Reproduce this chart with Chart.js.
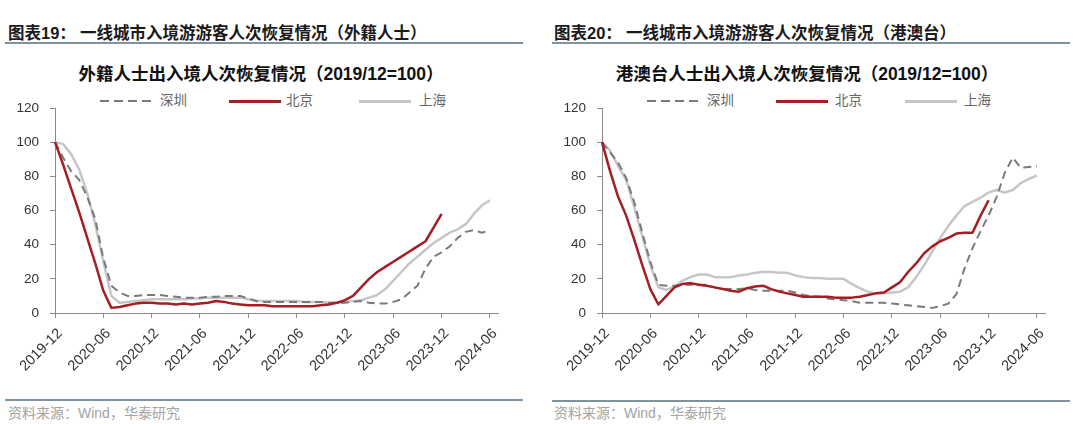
<!DOCTYPE html>
<html><head><meta charset="utf-8">
<script src="https://cdn.jsdelivr.net/npm/chart.js@4.4.1/dist/chart.umd.min.js"></script>
<style>
html,body{margin:0;padding:0;background:#fff;}
body{width:1080px;height:424px;position:relative;overflow:hidden;font-family:"Liberation Sans","Noto Sans CJK SC",sans-serif;}
.abs{position:absolute;white-space:nowrap;}
.hdr{font-size:16.5px;font-weight:700;color:#1a1a1a;line-height:20px;top:23px;}
.rule{position:absolute;height:2px;background:#7f939e;}
.ttl{font-size:17.5px;font-weight:700;color:#111;line-height:22px;top:63px;text-align:center;width:500px;}
.leg{top:92px;font-size:13.5px;color:#666;line-height:18px;}
.ln{position:absolute;width:52px;}
.dash{top:100px;height:2px;background:repeating-linear-gradient(90deg,#7a7a7a 0 9px,transparent 9px 14px);}
.red{top:99.5px;height:3px;background:#a31f24;}
.gry{top:100px;height:2.5px;background:#c6c6c6;}
.src{font-size:14px;color:#a3a3a3;top:404px;line-height:18px;}
canvas{position:absolute;top:100px;}
</style></head>
<body>
<div class="abs hdr" style="left:8px">图表19：</div>
<div class="abs hdr" style="left:80px">一线城市入境游游客人次恢复情况（外籍人士）</div>
<div class="abs hdr" style="left:554px">图表20：</div>
<div class="abs hdr" style="left:626px">一线城市入境游游客人次恢复情况（港澳台）</div>
<div class="rule" style="left:5px;width:518px;top:42px"></div>
<div class="rule" style="left:552px;width:518px;top:42px"></div>

<div class="abs ttl" style="left:11px">外籍人士出入境人次恢复情况（2019/12=100）</div>
<div class="abs ttl" style="left:557px">港澳台人士出入境人次恢复情况（2019/12=100）</div>

<div class="ln dash" style="left:100px"></div><div class="abs leg" style="left:160px">深圳</div>
<div class="ln red" style="left:229px"></div><div class="abs leg" style="left:286px">北京</div>
<div class="ln gry" style="left:359px"></div><div class="abs leg" style="left:419px">上海</div>
<div class="ln dash" style="left:647px"></div><div class="abs leg" style="left:707px">深圳</div>
<div class="ln red" style="left:776px"></div><div class="abs leg" style="left:835px">北京</div>
<div class="ln gry" style="left:905px"></div><div class="abs leg" style="left:964px">上海</div>

<canvas id="c1" width="540" height="300" style="left:0px"></canvas>
<canvas id="c2" width="540" height="300" style="left:540px"></canvas>

<div class="rule" style="left:5px;width:518px;top:399px"></div>
<div class="rule" style="left:552px;width:518px;top:400px"></div>
<div class="abs src" style="left:8px">资料来源：Wind，华泰研究</div>
<div class="abs src" style="left:554px">资料来源：Wind，华泰研究</div>

<script>
const months = ['2019-12','2020-01','2020-02','2020-03','2020-04','2020-05','2020-06','2020-07','2020-08','2020-09','2020-10','2020-11',
'2020-12','2021-01','2021-02','2021-03','2021-04','2021-05','2021-06','2021-07','2021-08','2021-09','2021-10','2021-11',
'2021-12','2022-01','2022-02','2022-03','2022-04','2022-05','2022-06','2022-07','2022-08','2022-09','2022-10','2022-11',
'2022-12','2023-01','2023-02','2023-03','2023-04','2023-05','2023-06','2023-07','2023-08','2023-09','2023-10','2023-11',
'2023-12','2024-01','2024-02','2024-03','2024-04','2024-05','2024-06','2024-07'];
const seriesNames = ['深圳','北京','上海'];

// 外籍人士
const fgnShenzhen = [100,91,83,78,68,55,32,16,12,10,10,10.5,10.5,10.5,10,9.5,9,9,9,9.5,9.5,10,10,10,8.5,7,6.5,6.5,6.5,6.5,6.5,6.5,6.5,6.5,6,6,6,6.5,7,6,5.5,5.5,6.5,8,12,16,26,33,35.5,39,44,47.5,48.5,47,48.5];
const fgnBeijing  = [100,87,73,59,44,29,13,3,3.5,4.5,5.5,6,6,5.5,5.5,5,5.5,5,5.5,6,7,6.5,5.5,5,4.5,4.5,4.5,4,4,4,4,4,4,4.5,5,6,7.5,10,15,20,24,27,30,33,36,39,42,50,58];
const fgnShanghai = [100,99,93,84,70,52,30,10,6,6.5,7,7.5,8,8,8,8,8,8.5,8.5,9,9,9,9,9,8,7,7,7,7,7,7,6.5,6.5,6.5,6,6,6.5,7,7.5,9,10.5,14,19,24,29,33,37,41,44,47,49,52,58,63,66];

// 港澳台
const hmtShenzhen = [100,94,88,79,65,47,30,16.5,16,16,16.5,16.5,16.5,16.5,15,14,14,14,14.5,13.5,13,13,13,13,12,10.5,10,9.5,8.5,8,7.5,7,6,6,6,6,5.5,5,4.5,4,3.5,3,4,5.5,11,26,38,48,57,68,82,91,85,85.5,86];
const hmtBeijing  = [100,83,68,57,43,28,14,5,10,15,17,17.5,16.5,16,15,14,13,12.5,14.5,15.5,16,14,12.5,11.5,10.5,9.5,9.5,9.5,9.5,9,9,9,9.5,10.5,11.5,12,15,18,24,29,35,39,42,44,46.5,47,47,57,66];
const hmtShanghai = [100,95,86,78,62,45,28,15,13.5,15.5,19,21,22.5,22.5,21,21,21,22,22.5,23.5,24,24,23.5,23.5,22,21,20.5,20.5,20,20,20,17,14.5,12.5,11.5,11.5,12,12.5,15,21,28,36,44,51,57,62.5,65,67.5,70.5,72,70.5,72,76,78.5,80.5];

const yTicks = {min:0, max:120, step:20};

function makeChart(id, sz, bj, sh, yWidth, padRight) {
  const axisColor = '#8a8a8a';
  return new Chart(document.getElementById(id), {
    type: 'line',
    data: {
      labels: months,
      datasets: [
        {label: seriesNames[0], data: sz, borderColor:'#7a7a7a', borderWidth:2, borderDash:[8,5], order:1},
        {label: seriesNames[1], data: bj, borderColor:'#a31f24', borderWidth:2.5, order:0},
        {label: seriesNames[2], data: sh, borderColor:'#c6c6c6', borderWidth:2.5, order:2}
      ]
    },
    options: {
      responsive:false, animation:false, devicePixelRatio:1,
      layout:{padding:{top:8, left:0, right:padRight, bottom:0}},
      elements:{point:{radius:0}, line:{tension:0, borderJoinStyle:'round', borderCapStyle:'butt'}},
      plugins:{legend:{display:false}, title:{display:false}, tooltip:{enabled:false}},
      scales:{
        x:{
          type:'category', offset:false,
          afterFit: s => { s.height = 87; },
          grid:{drawOnChartArea:false, drawTicks:true, tickLength:5,
                color: c => (c.index % 6 === 0 ? axisColor : 'rgba(0,0,0,0)'), lineWidth:1},
          border:{color:axisColor, width:1},
          ticks:{autoSkip:false, maxRotation:45, minRotation:45, padding:7, labelOffset:5, color:'#333',
                 font:{family:'Liberation Sans', size:14.5},
                 callback: function(v, i){ return i % 6 === 0 ? this.getLabelForValue(v) : ''; }}
        },
        y:{
          min:yTicks.min, max:yTicks.max,
          afterFit: s => { s.width = yWidth; s.paddingTop = 0; s.paddingBottom = 0; },
          grid:{drawOnChartArea:false, drawTicks:true, tickLength:5, color:axisColor},
          border:{color:axisColor, width:1},
          ticks:{stepSize:yTicks.step, padding:11, color:'#333', font:{family:'Liberation Sans', size:13.5}}
        }
      }
    }
  });
}
makeChart('c1', fgnShenzhen, fgnBeijing, fgnShanghai, 55, 42);
makeChart('c2', hmtShenzhen, hmtBeijing, hmtShanghai, 62, 35);
</script>
</body></html>
